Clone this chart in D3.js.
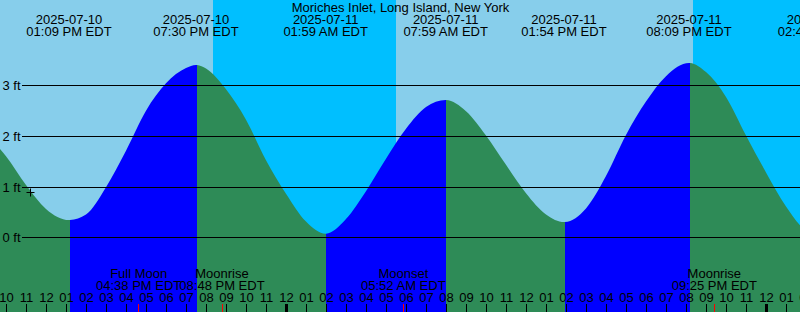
<!DOCTYPE html>
<html>
<head>
<meta charset="utf-8">
<script src="https://d3js.org/d3.v7.min.js"></script>
<style>
  body { margin: 0; overflow: hidden; }
  text { font-family: "Liberation Sans", Arial, sans-serif; font-size: 13px; fill: #000; }
</style>
</head>
<body>
<div id="chart"></div>
<script>
  // tide extremes, local time (EDT)
  var eventTimes   = ["2025-07-10 13:09", "2025-07-10 19:30", "2025-07-11 01:59", "2025-07-11 07:59",
                      "2025-07-11 13:54", "2025-07-11 20:09", "2025-07-12 02:42"];
  var eventHeights = [0.35, 3.41, 0.08, 2.72, 0.31, 3.45, 0.07];
  var eventKinds   = ["low", "high", "low", "high", "low", "high", "low"];

  var hourlyStart = "2025-07-10 09:00";
  var hourlyHeights = [2.05, 1.61, 1.04, 0.57, 0.37, 0.46, 1.00, 1.72, 2.51, 3.05, 3.35,
                       3.34, 2.93, 2.33, 1.53, 0.87, 0.32, 0.08, 0.37, 0.92, 1.56, 2.15,
                       2.58, 2.72, 2.50, 2.02, 1.44, 0.88, 0.46, 0.31, 0.58, 1.22, 2.03,
                       2.69, 3.19, 3.44, 3.27, 2.78, 2.02, 1.29, 0.62, 0.15, 0.09];

  // sun and moon
  var sunTimes  = ["2025-07-10 20:20", "2025-07-11 05:27", "2025-07-11 20:20"];
  var sunKinds  = ["sunset", "sunrise", "sunset"];
  var moonTimes = ["2025-07-10 16:38", "2025-07-10 20:48", "2025-07-11 05:52", "2025-07-11 21:25"];
  var moonNames = ["Full Moon", "Moonrise", "Moonset", "Moonrise"];

  // current level marker
  var nowTime = "2025-07-10 11:13";
  var nowHeight = 0.89;

  var yTicks = [0, 1, 2, 3];
  var title = "Moriches Inlet, Long Island, New York";
  var viewStart = "2025-07-10 09:42", viewEnd = "2025-07-12 01:42";

  var width = 800, height = 312;
  var parse = d3.utcParse("%Y-%m-%d %H:%M");
  var fmtDate = d3.utcFormat("%Y-%m-%d"),
      fmtTime = d3.utcFormat("%I:%M %p"),
      fmtHour = d3.utcFormat("%I");

  var x = d3.scaleUtc().domain([parse(viewStart), parse(viewEnd)]).range([0, width]);
  var y = d3.scaleLinear().domain([0, 3]).range([237.8, 85.8]);

  var events = eventTimes.map(function (t, i) {
    return {t: parse(t), h: eventHeights[i], kind: eventKinds[i]};
  });

  // merge hourly readings with the extremes
  var t0 = parse(hourlyStart);
  var pts = hourlyHeights.map(function (h, i) {
    return {t: d3.utcHour.offset(t0, i), h: h};
  }).filter(function (p) {
    return !events.some(function (e) { return Math.abs(e.t - p.t) < 15 * 60 * 1000; });
  });
  pts = pts.concat(events).sort(function (a, b) { return a.t - b.t; });

  var svg = d3.select("#chart").append("svg")
    .attr("width", width).attr("height", height);

  // day / night
  svg.append("rect").attr("width", width).attr("height", height).attr("fill", "#87ceeb");
  var nights = [];
  sunKinds.forEach(function (k, i) {
    if (k == "sunset") {
      var end = (i + 1 < sunTimes.length) ? parse(sunTimes[i + 1]) : x.domain()[1];
      nights.push([parse(sunTimes[i]), end]);
    }
  });
  svg.selectAll(".night").data(nights).enter().append("rect")
    .attr("x", function (d) { return Math.round(x(d[0])); })
    .attr("width", function (d) { return Math.round(x(d[1])) - Math.round(x(d[0])) + 1; })
    .attr("y", 0).attr("height", height)
    .attr("fill", "#00bfff");

  // rising / falling fill
  var segs = [];
  var bounds = [x.domain()[0]].concat(events.map(function (e) { return e.t; }));
  bounds.forEach(function (b, i) {
    var next = (i + 1 < bounds.length) ? bounds[i + 1] : x.domain()[1];
    var rising = events[i] ? events[i].kind == "high" : events[i - 1].kind == "high";
    segs.push({a: b, b: next, rising: rising});
  });
  function col(t) {
    if (+t == +x.domain()[0]) return 0;
    if (+t == +x.domain()[1]) return width;
    return Math.floor(x(t)) + 1;
  }

  var area = d3.area()
    .x(function (d) { return x(d.t); })
    .y0(height)
    .y1(function (d) { return y(d.h); })
    .curve(d3.curveMonotoneX);

  var defs = svg.append("defs");
  segs.forEach(function (s, i) {
    defs.append("clipPath").attr("id", "seg" + i).append("rect")
      .attr("x", col(s.a)).attr("y", 0)
      .attr("width", Math.max(0, col(s.b) - col(s.a)))
      .attr("height", height);
    svg.append("path").datum(pts)
      .attr("d", area)
      .attr("clip-path", "url(#seg" + i + ")")
      .attr("fill", s.rising ? "#0000ff" : "#2e8b57");
  });

  // height grid
  svg.selectAll(".grid").data(yTicks).enter().append("line")
    .attr("x1", 22).attr("x2", width)
    .attr("y1", function (d) { return Math.floor(y(d)) + 0.5; })
    .attr("y2", function (d) { return Math.floor(y(d)) + 0.5; })
    .attr("stroke", "#000").attr("stroke-width", 1);
  svg.selectAll(".ylab").data(yTicks).enter().append("text")
    .attr("x", 2.5)
    .attr("y", function (d) { return Math.floor(y(d)) + 4.5; })
    .text(function (d) { return d + " ft"; });

  // title and tide event labels
  svg.append("text").attr("x", 400.5).attr("y", 11.5).attr("text-anchor", "middle").text(title);
  var ev = svg.selectAll(".ev").data(events).enter().append("g");
  ev.append("text").attr("x", function (d) { return x(d.t); }).attr("y", 24)
    .attr("text-anchor", "middle").text(function (d) { return fmtDate(d.t); });
  ev.append("text").attr("x", function (d) { return x(d.t); }).attr("y", 35.5)
    .attr("text-anchor", "middle").text(function (d) { return fmtTime(d.t) + " EDT"; });

  // moon labels
  var moons = moonTimes.map(function (t, i) { return {t: parse(t), name: moonNames[i]}; });
  var mg = svg.selectAll(".moon").data(moons).enter().append("g");
  mg.append("text").attr("x", function (d) { return x(d.t); }).attr("y", 278)
    .attr("text-anchor", "middle").text(function (d) { return d.name; });
  mg.append("text").attr("x", function (d) { return x(d.t); }).attr("y", 289.5)
    .attr("text-anchor", "middle").text(function (d) { return fmtTime(d.t) + " EDT"; });

  // hour axis
  var hours = d3.utcHour.range(d3.utcHour.offset(x.domain()[0], -1), d3.utcHour.offset(x.domain()[1], 1));
  svg.selectAll(".hlab").data(hours).enter().append("text")
    .attr("x", function (d) { return Math.round(x(d)) + 0.5; }).attr("y", 301.5)
    .attr("text-anchor", "middle").text(function (d) { return fmtHour(d); });
  svg.selectAll(".htick").data(hours).enter().append("line")
    .attr("x1", function (d) { return Math.round(x(d)) + 0.5; })
    .attr("x2", function (d) { return Math.round(x(d)) + 0.5; })
    .attr("y1", 304).attr("y2", height)
    .attr("stroke", "#000")
    .attr("stroke-width", function (d) { return d.getUTCHours() == 0 ? 3 : 1; });
  svg.selectAll(".mtick").data(moons).enter().append("line")
    .attr("x1", function (d) { return Math.floor(x(d.t)) + 0.5; })
    .attr("x2", function (d) { return Math.floor(x(d.t)) + 0.5; })
    .attr("y1", 304).attr("y2", height)
    .attr("stroke", "#ff0000").attr("stroke-width", 1);

  // current level cross
  var cx = Math.floor(x(parse(nowTime))) + 0.5, cy = Math.floor(y(nowHeight)) + 0.5;
  svg.append("path")
    .attr("d", "M" + (cx - 4) + "," + cy + "H" + (cx + 4) + "M" + cx + "," + (cy - 4) + "V" + (cy + 4))
    .attr("stroke", "#000").attr("stroke-width", 1);
</script>
</body>
</html>
